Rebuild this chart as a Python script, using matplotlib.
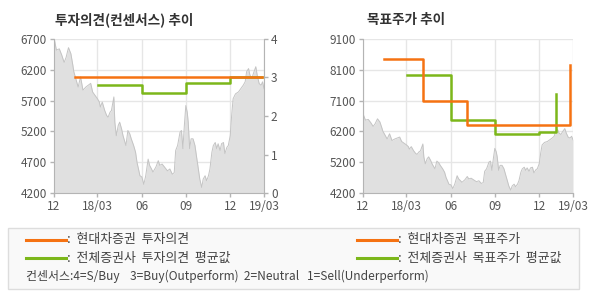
# -*-coding:Utf-8 -*
#######################################################################
# Importations de fonctions externes :
import matplotlib
matplotlib.use("Agg")
from matplotlib import pyplot as plt
from matplotlib.lines import Line2D
from matplotlib.patches import Rectangle
import pandas as pd

#######################################################################
# Donnees :

price_dates = [
    "2017-12-02", "2017-12-06", "2017-12-12", "2017-12-17", "2017-12-22",
    "2017-12-26", "2017-12-31", "2018-01-05", "2018-01-09", "2018-01-11",
    "2018-01-15", "2018-01-20", "2018-01-25", "2018-01-30", "2018-02-05",
    "2018-02-10", "2018-02-15", "2018-02-19", "2018-02-24", "2018-03-01",
    "2018-03-05", "2018-03-07", "2018-03-11", "2018-03-16", "2018-03-20",
    "2018-03-23", "2018-03-27", "2018-03-30", "2018-04-04", "2018-04-06",
    "2018-04-09", "2018-04-13", "2018-04-16", "2018-04-20", "2018-04-23",
    "2018-04-29", "2018-05-03", "2018-05-07", "2018-05-10", "2018-05-15",
    "2018-05-19", "2018-05-22", "2018-05-25", "2018-05-28", "2018-06-01",
    "2018-06-05", "2018-06-09", "2018-06-14", "2018-06-17", "2018-06-21",
    "2018-06-24", "2018-06-30", "2018-07-05", "2018-07-08", "2018-07-13",
    "2018-07-18", "2018-07-24", "2018-07-29", "2018-08-03", "2018-08-07",
    "2018-08-10", "2018-08-14", "2018-08-19", "2018-08-22", "2018-08-25",
    "2018-08-28", "2018-08-31", "2018-09-03", "2018-09-05", "2018-09-08",
    "2018-09-11", "2018-09-15", "2018-09-19", "2018-09-23", "2018-09-26",
    "2018-09-29", "2018-10-03", "2018-10-06", "2018-10-10", "2018-10-13",
    "2018-10-17", "2018-10-20", "2018-10-24", "2018-10-27", "2018-10-31",
    "2018-11-03", "2018-11-06", "2018-11-10", "2018-11-13", "2018-11-17",
    "2018-11-20", "2018-11-24", "2018-11-27", "2018-12-01", "2018-12-04",
    "2018-12-07", "2018-12-12", "2018-12-18", "2018-12-23", "2018-12-28",
    "2019-01-01", "2019-01-04", "2019-01-08", "2019-01-11", "2019-01-15",
    "2019-01-18", "2019-01-23", "2019-01-26", "2019-01-30", "2019-02-03",
    "2019-02-06", "2019-02-09",
]
price_values = [
    6680, 6520, 6540, 6440, 6320, 6400, 6560, 6460, 6275, 6170,
    6060, 5920, 6085, 5870, 5920, 5950, 5980, 5840, 5785, 5730,
    5675, 5595, 5675, 5540, 5460, 5430, 5510, 5540, 5760, 5350,
    5130, 5295, 5350, 5240, 5130, 4970, 5215, 5160, 5080, 4970,
    4860, 4695, 4590, 4480, 4460, 4340, 4480, 4750, 4650, 4590,
    4540, 4620, 4725, 4650, 4670, 4620, 4560, 4590, 4505, 4530,
    4890, 4970, 5185, 5215, 4920, 5295, 5620, 5510, 5350, 4920,
    5080, 5080, 4970, 4750, 4590, 4425, 4290, 4425, 4480, 4400,
    4480, 4590, 4860, 4970, 5020, 4920, 5000, 4890, 5000, 5020,
    4840, 4940, 4970, 5130, 5460, 5730, 5810, 5840, 5895, 5950,
    6005, 6170, 6220, 6110, 6060, 6140, 6250, 6110, 5975, 5950,
    6005, 5895,
]

# Opinion (consensus) : 4=S/Buy 3=Buy 2=Neutral 1=Sell
opinion_dates = ["2018-01-13", "2019-02-04"]
opinion_values = [3.0, 3.0]
avg_opinion_dates = ["2018-03-02", "2018-06-01", "2018-09-01",
                     "2018-12-01", "2019-02-04"]
avg_opinion_values = [2.80, 2.59, 2.85, 3.0, 3.0]

# Objectifs de cours :
target_dates = ["2018-01-13", "2018-04-05", "2018-07-05", "2019-02-03"]
target_values = [8450, 7130, 6360, 8280]
avg_target_dates = ["2018-03-02", "2018-06-01", "2018-09-01",
                    "2018-12-01", "2019-01-05"]
avg_target_values = [7940, 6520, 6070, 6135, 7350]

tick_dates = ["2017-12-01", "2018-03-01", "2018-06-01", "2018-09-01",
              "2018-12-01", "2019-02-09"]
tick_labels = ["12", "18/03", "06", "09", "12", "19/03"]

ORANGE = "#f57212"
GREEN = "#7cb71a"
GRID = "#e6e6e6"
SPINE = "#b4b4b4"
TEXT = "#555555"

plt.rcParams['font.family'] = ['Noto Sans CJK KR', 'DejaVu Sans']


# ------------------------------------------------------------------- #
def style_axes(ax, ticks, x0, x1):
    """
    Grille, bordures et graduations communes.
    """
    ax.set_xlim(x0, x1)
    ax.set_xticks(ticks)
    ax.set_xticklabels(tick_labels)
    ax.grid(True, color=GRID, lw=1)
    ax.set_axisbelow(True)
    for side in ["top", "right"]:
        ax.spines[side].set_visible(False)
    for side in ["left", "bottom"]:
        ax.spines[side].set_color(SPINE)
    ax.tick_params(colors=SPINE, labelcolor=TEXT, labelsize=8.5,
                   length=3, width=1, pad=2)


# ------------------------------------------------------------------- #
def main() -> int:
    """
    Fonction programme principal.
    """
    dates = pd.to_datetime(price_dates)
    ticks = pd.to_datetime(tick_dates)
    x0, x1 = ticks[0], ticks[-1]

    fig = plt.figure(figsize=(5.9, 3.0), dpi=100)

    # Graphique de gauche : opinion
    ax = fig.add_axes([54 / 590, 107 / 300, 210 / 590, 154 / 300])
    ax.fill_between(dates, price_values, 4200, color="#e0e0e0", lw=0)
    ax.plot(dates, price_values, color="#c4c4c4", lw=0.7)
    ax.set_ylim(4200, 6700)
    ax.set_yticks([4200, 4700, 5200, 5700, 6200, 6700])
    style_axes(ax, ticks, x0, x1)

    ax2 = ax.twinx()
    ax2.set_ylim(0, 4)
    ax2.set_yticks([0, 1, 2, 3, 4])
    ax2.set_xlim(x0, x1)
    for side in ["top", "left", "bottom"]:
        ax2.spines[side].set_visible(False)
    ax2.spines["right"].set_color(SPINE)
    ax2.tick_params(colors=SPINE, labelcolor=TEXT, labelsize=8.5,
                    length=3, width=1, pad=2)
    ax2.plot(pd.to_datetime(avg_opinion_dates), avg_opinion_values,
             drawstyle="steps-post", color=GREEN, lw=1.8)
    ax2.plot(pd.to_datetime(opinion_dates), opinion_values,
             drawstyle="steps-post", color=ORANGE, lw=1.8)

    # Graphique de droite : objectif de cours
    ax3 = fig.add_axes([363 / 590, 107 / 300, 210 / 590, 154 / 300])
    ax3.fill_between(dates, price_values, 4200, color="#e0e0e0", lw=0)
    ax3.plot(dates, price_values, color="#c4c4c4", lw=0.7)
    ax3.set_ylim(4200, 9100)
    yt = [4200 + i * 980 for i in range(6)]
    ax3.set_yticks(yt)
    ax3.set_yticklabels([str(int(round(v, -2))) for v in yt])
    style_axes(ax3, ticks, x0, x1)
    ax3.plot(pd.to_datetime(avg_target_dates), avg_target_values,
             drawstyle="steps-post", color=GREEN, lw=1.8)
    ax3.plot(pd.to_datetime(target_dates), target_values,
             drawstyle="steps-post", color=ORANGE, lw=1.8)

    # Titres :
    fig.text(55 / 590, 1 - 20 / 300, "투자의견(컨센서스) 추이", fontsize=9.8,
             fontweight="bold", color="#333333", va="center")
    fig.text(367 / 590, 1 - 20 / 300, "목표주가 추이", fontsize=9.8,
             fontweight="bold", color="#333333", va="center")

    # Cadre de legende :
    fig.patches.append(Rectangle((8 / 590, 1 - 289 / 300), 571 / 590,
                                 61 / 300, transform=fig.transFigure,
                                 facecolor="#f9f9f9", edgecolor="#dddddd",
                                 lw=1))
    items = [
        (26, 240, ORANGE, ":  현대차증권  투자의견"),
        (26, 258, GREEN, ":  전체증권사  투자의견  평균값"),
        (357, 240, ORANGE, ":  현대차증권  목표주가"),
        (357, 258, GREEN, ":  전체증권사  목표주가  평균값"),
    ]
    for px, py, col, label in items:
        yy = 1 - py / 300
        fig.lines.append(Line2D([px / 590, (px + 40) / 590], [yy, yy],
                                transform=fig.transFigure, color=col,
                                lw=2.2))
        fig.text((px + 41) / 590, yy, label, fontsize=9.3, color="#444444",
                 va="center")
    fig.text(26 / 590, 1 - 276 / 300,
             "컨센서스:4=S/Buy    3=Buy(Outperform)  2=Neutral"
             "   1=Sell(Underperform)",
             fontsize=8.6, color="#444444", va="center")

    fig.savefig("out.png", dpi=100)
    return (0)


#######################################################################
if __name__ == "__main__":
    main()
